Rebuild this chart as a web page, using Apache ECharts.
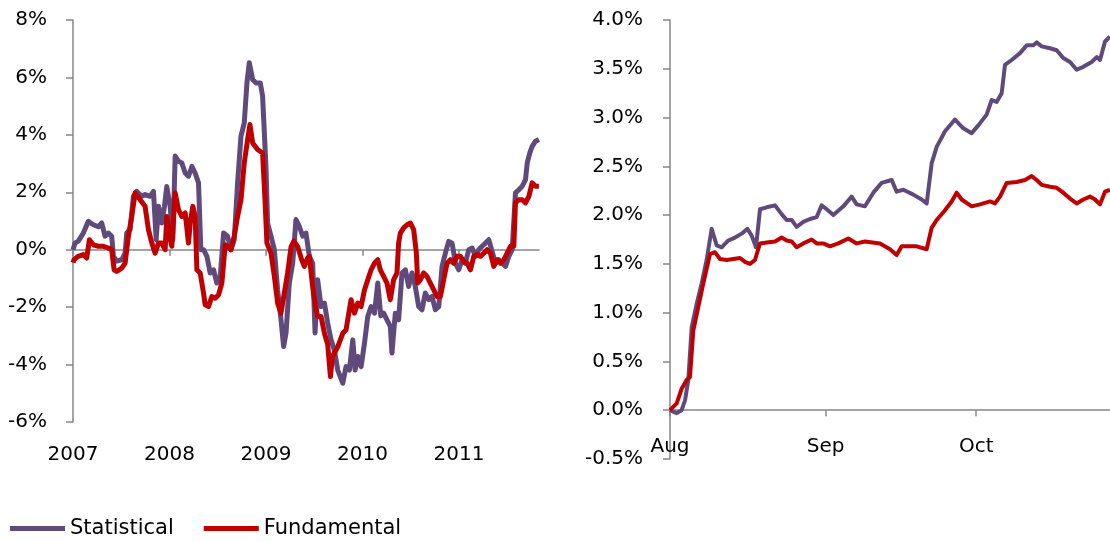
<!DOCTYPE html>
<html><head><meta charset="utf-8">
<script src="https://cdn.jsdelivr.net/npm/echarts@6/dist/echarts.min.js"></script>
<style>html,body{margin:0;padding:0;background:#fff}#c{width:1110px;height:541px}</style>
</head><body><div id="c"></div>
<script>
// ---- data ----
const seriesNames = ['Statistical', 'Fundamental'];
const leftYearTicks = [2007, 2008, 2009, 2010, 2011];
const rightTickDays = [0, 31, 61];            // days since 1 Aug 2011
const rightTickLabels = ['Aug', 'Sep', 'Oct'];

// Left panel: [fractional year, %]
const statLong = [
[2007.000,0.00],[2007.021,0.23],[2007.055,0.30],[2007.107,0.58],[2007.159,0.99],[2007.211,0.87],[2007.263,0.80],[2007.298,0.93],[2007.332,0.47],[2007.367,0.58],[2007.401,0.47],[2007.419,-0.23],[2007.453,-0.40],[2007.505,-0.35],[2007.540,-0.12],[2007.557,0.58],[2007.592,0.70],[2007.626,1.86],[2007.661,2.03],[2007.713,1.86],[2007.747,1.92],[2007.799,1.86],[2007.834,2.03],[2007.862,0.35],[2007.886,1.51],[2007.920,0.93],[2007.948,1.51],[2007.972,2.20],[2008.007,1.50],[2008.035,0.35],[2008.059,3.26],[2008.093,3.08],[2008.128,3.02],[2008.163,2.67],[2008.197,2.56],[2008.232,2.90],[2008.266,2.67],[2008.301,2.33],[2008.325,0.00],[2008.353,0.00],[2008.388,-0.23],[2008.422,-0.81],[2008.457,-0.70],[2008.491,-1.16],[2008.526,-0.93],[2008.561,0.58],
[2008.602,0.47],[2008.637,0.00],[2008.671,0.35],[2008.706,2.33],[2008.741,3.95],[2008.775,4.42],[2008.803,5.81],[2008.827,6.51],[2008.862,5.93],[2008.896,5.81],[2008.941,5.81],[2008.965,5.35],[2009.000,2.90],[2009.017,0.93],[2009.052,0.47],[2009.087,0.00],[2009.121,-1.40],[2009.156,-2.44],[2009.183,-3.37],[2009.208,-2.90],[2009.242,-1.16],[2009.277,-0.47],[2009.311,1.05],[2009.346,0.81],[2009.381,0.47],[2009.415,0.58],[2009.450,-0.23],[2009.484,-0.47],[2009.509,-2.90],[2009.536,-1.05],[2009.571,-1.98],[2009.606,-1.86],[2009.640,-2.56],[2009.675,-3.14],[2009.709,-3.49],[2009.744,-4.19],[2009.796,-4.65],[2009.830,-4.07],[2009.865,-4.19],[2009.900,-3.14],[2009.924,-4.19],[2009.952,-3.72],[2009.986,-4.07],[2010.021,-3.26],[2010.055,-2.33],[2010.090,-1.98],[2010.125,-2.21],[2010.159,-1.16],[2010.190,-2.30],
[2010.220,-2.21],[2010.254,-2.44],[2010.289,-2.67],[2010.306,-3.60],[2010.323,-2.90],[2010.341,-2.21],[2010.375,-2.44],[2010.410,-0.81],[2010.445,-0.70],[2010.479,-1.28],[2010.514,-0.81],[2010.548,-1.28],[2010.583,-1.98],[2010.617,-2.09],[2010.652,-1.51],[2010.687,-1.74],[2010.721,-1.63],[2010.756,-2.09],[2010.791,-1.98],[2010.825,-0.58],[2010.860,-0.12],[2010.894,0.29],[2010.929,0.23],[2010.964,-0.47],[2010.998,-0.70],[2011.033,-0.35],[2011.067,-0.47],[2011.102,0.00],[2011.137,0.06],[2011.171,-0.23],[2011.206,0.00],[2011.240,0.12],[2011.275,0.23],[2011.310,0.35],[2011.344,-0.06],[2011.379,-0.47],[2011.413,-0.35],[2011.448,-0.47],[2011.483,-0.58],[2011.517,-0.23],[2011.552,0.00],[2011.586,1.98],[2011.621,2.09],[2011.656,2.21],[2011.690,2.44],[2011.708,3.02],[2011.735,3.37],[2011.759,3.60],[2011.794,3.78],[2011.829,3.84]
];
const fundLong = [
[2007.000,-0.45],[2007.010,-0.35],[2007.055,-0.23],[2007.107,-0.17],[2007.142,-0.29],[2007.170,0.35],[2007.211,0.17],[2007.263,0.12],[2007.315,0.12],[2007.367,0.06],[2007.401,0.00],[2007.426,-0.70],[2007.453,-0.76],[2007.505,-0.64],[2007.540,-0.47],[2007.574,0.47],[2007.609,1.16],[2007.644,1.98],[2007.696,1.74],[2007.747,1.51],[2007.782,0.70],[2007.817,0.23],[2007.851,-0.12],[2007.886,0.23],[2007.920,0.23],[2007.955,0.00],[2007.972,1.16],[2008.000,0.47],[2008.024,0.12],[2008.059,1.98],[2008.093,1.40],[2008.128,1.16],[2008.163,1.28],[2008.197,0.23],[2008.215,0.93],[2008.242,1.51],[2008.266,1.16],[2008.284,-0.70],[2008.318,-0.81],[2008.353,-1.51],[2008.370,-1.92],[2008.405,-1.98],[2008.439,-1.63],[2008.474,-1.69],[2008.509,-1.57],[2008.543,-1.16],[2008.578,0.17],
[2008.602,0.12],[2008.637,0.00],[2008.671,0.47],[2008.706,1.16],[2008.741,1.74],[2008.775,3.02],[2008.810,3.84],[2008.834,4.36],[2008.862,3.72],[2008.913,3.49],[2008.965,3.37],[2008.990,1.74],[2009.010,0.23],[2009.052,-0.12],[2009.087,-0.93],[2009.121,-1.86],[2009.156,-2.21],[2009.190,-1.51],[2009.225,-0.80],[2009.260,0.10],[2009.290,0.30],[2009.330,0.10],[2009.370,-0.35],[2009.398,-0.58],[2009.430,-0.30],[2009.450,-0.23],[2009.484,-1.30],[2009.510,-1.90],[2009.536,-2.33],[2009.571,-2.33],[2009.606,-2.91],[2009.640,-3.30],[2009.668,-4.42],[2009.690,-3.72],[2009.744,-3.38],[2009.796,-2.91],[2009.830,-2.79],[2009.882,-1.74],[2009.917,-2.21],[2009.952,-1.86],[2009.986,-1.98],[2010.021,-1.40],[2010.055,-1.05],[2010.090,-0.70],[2010.125,-0.47],[2010.159,-0.35],[2010.185,-0.70],
[2010.220,-0.93],[2010.254,-1.16],[2010.289,-1.74],[2010.323,-1.05],[2010.358,-0.81],[2010.375,0.23],[2010.393,0.58],[2010.427,0.76],[2010.462,0.87],[2010.496,0.93],[2010.531,0.70],[2010.559,-0.12],[2010.573,-1.16],[2010.600,-1.05],[2010.635,-0.81],[2010.669,-0.93],[2010.704,-1.16],[2010.739,-1.40],[2010.773,-1.63],[2010.808,-1.63],[2010.842,-1.05],[2010.877,-0.47],[2010.912,-0.35],[2010.946,-0.47],[2010.981,-0.23],[2011.015,-0.23],[2011.050,-0.41],[2011.085,-0.47],[2011.119,-0.70],[2011.154,-0.23],[2011.188,-0.17],[2011.223,-0.23],[2011.258,-0.12],[2011.292,0.00],[2011.327,-0.12],[2011.361,-0.58],[2011.396,-0.35],[2011.431,-0.47],[2011.465,-0.35],[2011.500,-0.12],[2011.534,0.12],[2011.569,0.12],[2011.586,1.63],[2011.621,1.74],[2011.656,1.74],[2011.690,1.63],[2011.725,1.86],[2011.759,2.33],[2011.794,2.21],[2011.829,2.21]
];

// Right panel: [days since 1 Aug 2011, %]
const statRecent = [
[0.00,0.00],[1.33,-0.03],[2.32,0.00],[2.99,0.10],[3.65,0.31],[4.32,0.85],[5.31,1.09],[6.31,1.30],[7.30,1.54],[8.30,1.86],[9.30,1.69],[10.29,1.67],[11.62,1.74],[12.95,1.77],[14.28,1.81],[15.41,1.86],[16.27,1.79],[17.13,1.67],[17.93,2.06],[19.26,2.08],[20.92,2.10],[22.24,2.01],[23.24,1.95],[24.24,1.95],[25.23,1.88],[26.56,1.93],[27.89,1.96],[29.22,1.98],[30.21,2.10],[31.21,2.06],[32.54,2.00],[34.53,2.09],[36.19,2.19],[37.18,2.11],[38.84,2.09],[40.50,2.23],[42.16,2.33],[44.16,2.36],[45.15,2.24],[46.48,2.26],[48.47,2.21],[50.13,2.16],[51.13,2.12],[52.12,2.53],[53.12,2.70],[54.78,2.86],[56.77,2.98],[58.43,2.89],[60.09,2.84],[61.42,2.92],[63.08,3.03],[64.08,3.18],[65.07,3.16],[66.07,3.25],[66.73,3.54],[68.06,3.59],[69.72,3.66],[71.05,3.74],[72.38,3.74],[73.04,3.77],[74.04,3.73],[75.70,3.71],[77.03,3.69],[78.35,3.61],[79.68,3.57],[81.01,3.49],[82.34,3.52],[84.00,3.57],[85.00,3.62],[85.66,3.59],[86.65,3.78],[87.65,3.83]
];
const fundRecent = [
[0.00,0.00],[1.33,0.07],[2.32,0.22],[3.32,0.31],[3.98,0.34],[4.65,0.82],[5.64,1.06],[6.64,1.30],[7.97,1.60],[8.96,1.62],[9.96,1.55],[11.29,1.54],[12.62,1.55],[13.94,1.56],[14.94,1.52],[15.94,1.50],[16.93,1.54],[17.93,1.71],[19.26,1.72],[20.92,1.73],[22.24,1.77],[23.24,1.74],[24.24,1.73],[25.23,1.67],[26.56,1.71],[28.22,1.75],[29.22,1.71],[30.54,1.71],[31.87,1.68],[33.53,1.71],[35.52,1.76],[37.18,1.71],[38.84,1.73],[41.83,1.71],[43.82,1.65],[45.15,1.59],[46.15,1.68],[49.14,1.68],[51.13,1.65],[52.12,1.87],[53.12,1.95],[54.78,2.05],[56.11,2.14],[57.10,2.23],[58.10,2.16],[60.09,2.09],[61.75,2.11],[63.75,2.14],[64.74,2.12],[65.74,2.19],[67.07,2.33],[69.06,2.34],[70.72,2.36],[72.05,2.40],[73.04,2.36],[74.04,2.31],[75.70,2.29],[77.03,2.28],[78.35,2.23],[79.68,2.17],[81.01,2.12],[82.34,2.16],[83.67,2.19],[84.66,2.16],[85.66,2.11],[86.65,2.24],[87.65,2.26]
];

// ---- chart ----
const PURPLE = '#604A7B', RED = '#C00000';
const AXIS = { color: '#868686', width: 1.5 };
const LABEL = { fontFamily: 'DejaVu Sans', fontSize: 20, color: '#000' };

const chart = echarts.init(document.getElementById('c'), null, { renderer: 'canvas' });
chart.setOption({
  animation: false,
  backgroundColor: '#fff',
  grid: [
    { left: 73, top: 20, width: 466, height: 402 },
    { left: 670, top: 20, width: 440, height: 439 }
  ],
  legend: {
    data: seriesNames, left: 5, top: 513, icon: 'rect',
    itemWidth: 55, itemHeight: 5, itemGap: 30,
    textStyle: { fontFamily: 'DejaVu Sans', fontSize: 21, color: '#000' }
  },
  xAxis: [
    { gridIndex: 0, type: 'value', min: 2007, max: 2011.83,
      axisLine: { show: true, onZero: true, lineStyle: AXIS },
      axisTick: { show: true, length: 6, customValues: leftYearTicks, lineStyle: AXIS },
      axisLabel: Object.assign({ customValues: leftYearTicks, margin: 23, formatter: v => String(v) }, LABEL),
      splitLine: { show: false } },
    { gridIndex: 1, type: 'value', min: 0, max: 87.65,
      axisLine: { show: true, onZero: true, lineStyle: AXIS },
      axisTick: { show: true, length: 6, customValues: rightTickDays, lineStyle: AXIS },
      axisLabel: Object.assign({ customValues: rightTickDays, margin: -22,
        formatter: v => { const i = rightTickDays.indexOf(v); return i >= 0 ? rightTickLabels[i] : ''; } }, LABEL),
      splitLine: { show: false } }
  ],
  yAxis: [
    { gridIndex: 0, type: 'value', min: -6, max: 8, interval: 2,
      axisLine: { show: true, onZero: false, lineStyle: AXIS },
      axisTick: { show: true, length: 7, lineStyle: AXIS },
      axisLabel: Object.assign({ margin: 26, formatter: v => v + '%' }, LABEL),
      splitLine: { show: false } },
    { gridIndex: 1, type: 'value', min: -0.5, max: 4, interval: 0.5,
      axisLine: { show: true, onZero: false, lineStyle: AXIS },
      axisTick: { show: true, length: 7, lineStyle: AXIS },
      axisLabel: Object.assign({ margin: 27, formatter: v => v.toFixed(1) + '%' }, LABEL),
      splitLine: { show: false } }
  ],
  series: [
    { name: seriesNames[0], type: 'line', xAxisIndex: 0, yAxisIndex: 0, data: statLong, showSymbol: false,
      lineStyle: { color: PURPLE, width: 5, join: 'round' }, itemStyle: { color: PURPLE }, z: 2 },
    { name: seriesNames[1], type: 'line', xAxisIndex: 0, yAxisIndex: 0, data: fundLong, showSymbol: false,
      lineStyle: { color: RED, width: 5, join: 'round' }, itemStyle: { color: RED }, z: 3 },
    { name: seriesNames[0], type: 'line', xAxisIndex: 1, yAxisIndex: 1, data: statRecent, showSymbol: false,
      lineStyle: { color: PURPLE, width: 4, join: 'round' }, itemStyle: { color: PURPLE }, z: 2 },
    { name: seriesNames[1], type: 'line', xAxisIndex: 1, yAxisIndex: 1, data: fundRecent, showSymbol: false,
      lineStyle: { color: RED, width: 4, join: 'round' }, itemStyle: { color: RED }, z: 3 }
  ]
});
</script>
</body></html>
